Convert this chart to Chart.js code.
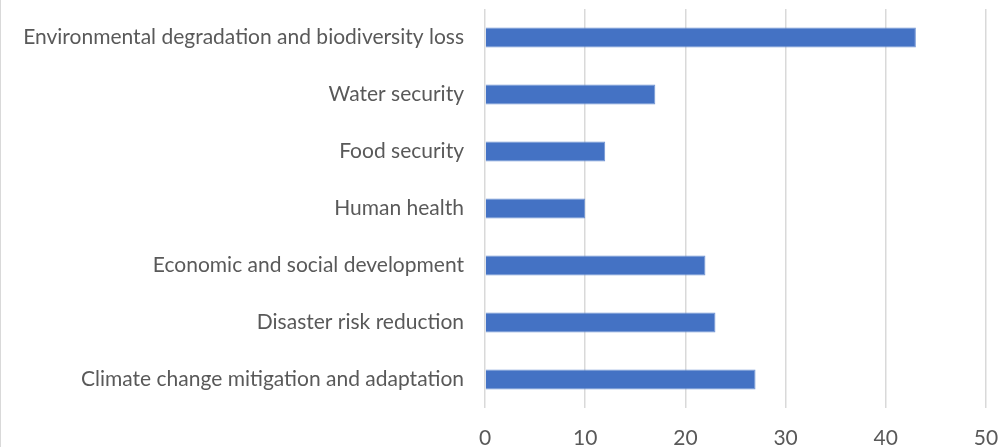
<!DOCTYPE html>
<html>
<head>
<meta charset="utf-8">
<script src="https://cdn.jsdelivr.net/npm/chart.js@4/dist/chart.umd.min.js"></script>
<style>
  html, body { margin: 0; padding: 0; background: #fff; }
  #wrap { position: relative; width: 1000px; height: 447px; box-sizing: border-box; border-left: 1px solid #d9d9d9; }
  canvas { display: block; }
</style>
</head>
<body>
<div id="wrap"><canvas id="chart" width="999" height="447"></canvas></div>
<script>
  const categories = [
    "Environmental degradation and biodiversity loss",
    "Water security",
    "Food security",
    "Human health",
    "Economic and social development",
    "Disaster risk reduction",
    "Climate change mitigation and adaptation"
  ];
  const values = [43, 17, 12, 10, 22, 23, 27];
  const xTicks = [0, 10, 20, 30, 40, 50];

  const fontFamily = "Lato, 'Open Sans', sans-serif";
  const textColor = "#595959";

  new Chart(document.getElementById("chart"), {
    type: "bar",
    data: {
      labels: categories,
      datasets: [{
        data: values,
        backgroundColor: "#4472c4",
        borderColor: "#6f93d3",
        borderWidth: 1,
        barPercentage: 0.7,
        categoryPercentage: 0.5
      }]
    },
    options: {
      indexAxis: "y",
      responsive: false,
      animation: false,
      layout: { padding: { top: 9, right: 14, bottom: 0, left: 0 } },
      plugins: { legend: { display: false }, tooltip: { enabled: false } },
      scales: {
        x: {
          min: xTicks[0],
          max: xTicks[xTicks.length - 1],
          afterBuildTicks: (s) => { s.ticks = xTicks.map((v) => ({ value: v })); },
          afterFit: (s) => { s.height = 39; s.paddingLeft = 0; s.paddingRight = 0; },
          grid: { color: "#d9d9d9", lineWidth: 1.5, drawTicks: false },
          border: { display: false },
          ticks: { color: textColor, padding: 18, font: { family: fontFamily, size: 21 } }
        },
        y: {
          afterFit: (s) => { s.width = 484; s.paddingTop = 0; s.paddingBottom = 0; },
          grid: { display: false, drawTicks: false },
          border: { display: false },
          ticks: { color: textColor, padding: 21, font: { family: fontFamily, size: 21 } }
        }
      }
    }
  });
</script>
</body>
</html>
